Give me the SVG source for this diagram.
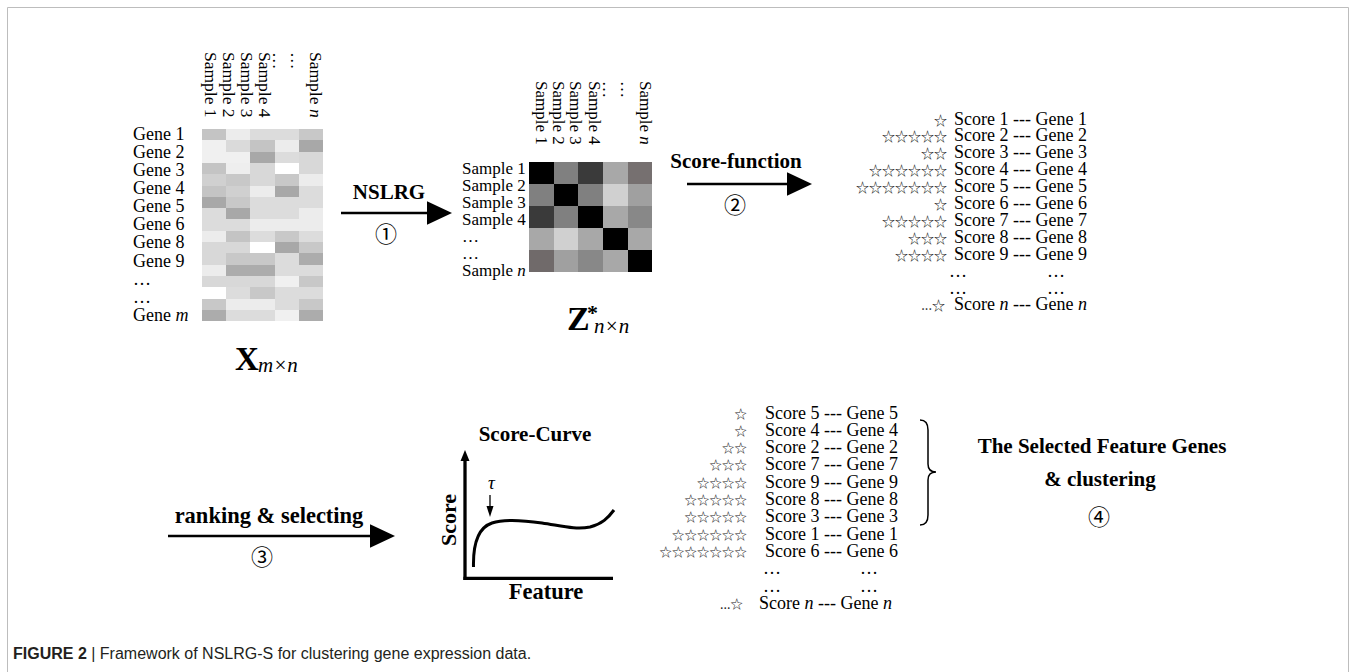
<svg xmlns="http://www.w3.org/2000/svg" width="1356" height="672" viewBox="0 0 1356 672">
<defs>
<style>
.s{font-family:"Liberation Serif","Times New Roman",serif;fill:#000}
.g18{font-size:18px}
.r17{font-size:17.5px}
.b{font-weight:bold}
.it{font-style:italic}
.st{font-family:"Noto Sans CJK SC","DejaVu Sans",sans-serif;fill:#222}
.cn{font-family:"Noto Sans CJK SC","DejaVu Sans",sans-serif;font-size:22px;text-anchor:middle;fill:#000}
.ln{stroke:#000;fill:none}
.cap{font-family:"Liberation Sans",Arial,sans-serif;font-size:16px;fill:#231f20}
</style>
<marker id="ah" markerUnits="userSpaceOnUse" markerWidth="26" markerHeight="24" viewBox="0 0 26 24" refX="13" refY="12" orient="auto"><path d="M0,0.3 L25,12 L0,23.7 z" fill="#000"/></marker>
<marker id="as" markerUnits="userSpaceOnUse" markerWidth="12" markerHeight="8" viewBox="0 0 12 8" refX="5" refY="4" orient="auto"><path d="M0,0.5 L11,4 L0,7.5 z" fill="#000"/></marker>
<marker id="ay" markerUnits="userSpaceOnUse" markerWidth="12" markerHeight="10" viewBox="0 0 12 10" refX="4" refY="5" orient="auto"><path d="M0,0.5 L11,5 L0,9.5 z" fill="#000"/></marker>
</defs>
<rect width="1356" height="672" fill="#fff"/>
<path d="M7.5,672 V7.5 H1348.5 V672" stroke="#bdbdbd" stroke-width="1" fill="none"/>

<g id="matrix-X">
<g shape-rendering="crispEdges">
<g transform="translate(202,129)">
<rect x="0" y="0" width="24.4" height="11.5" fill="#c4c4c4"/><rect x="24.2" y="0" width="24.4" height="11.5" fill="#ececec"/><rect x="48.4" y="0" width="24.4" height="11.5" fill="#dcdcdc"/><rect x="72.6" y="0" width="24.4" height="11.5" fill="#dcdcdc"/><rect x="96.8" y="0" width="24.2" height="11.5" fill="#c8c8c8"/>
<rect x="0" y="11.3" width="24.4" height="11.5" fill="#f0f0f0"/><rect x="24.2" y="11.3" width="24.4" height="11.5" fill="#dadada"/><rect x="48.4" y="11.3" width="24.4" height="11.5" fill="#c4c4c4"/><rect x="72.6" y="11.3" width="24.4" height="11.5" fill="#ececec"/><rect x="96.8" y="11.3" width="24.2" height="11.5" fill="#a8a8a8"/>
<rect x="0" y="22.6" width="24.4" height="11.5" fill="#f0f0f0"/><rect x="24.2" y="22.6" width="24.4" height="11.5" fill="#f0f0f0"/><rect x="48.4" y="22.6" width="24.4" height="11.5" fill="#a8a8a8"/><rect x="72.6" y="22.6" width="24.4" height="11.5" fill="#dcdcdc"/><rect x="96.8" y="22.6" width="24.2" height="11.5" fill="#d8d8d8"/>
<rect x="0" y="33.9" width="24.4" height="11.5" fill="#c4c4c4"/><rect x="24.2" y="33.9" width="24.4" height="11.5" fill="#eeeeee"/><rect x="48.4" y="33.9" width="24.4" height="11.5" fill="#d8d8d8"/><rect x="72.6" y="33.9" width="24.4" height="11.5" fill="#ffffff"/><rect x="96.8" y="33.9" width="24.2" height="11.5" fill="#d8d8d8"/>
<rect x="0" y="45.2" width="24.4" height="11.5" fill="#d0d0d0"/><rect x="24.2" y="45.2" width="24.4" height="11.5" fill="#c8c8c8"/><rect x="48.4" y="45.2" width="24.4" height="11.5" fill="#d8d8d8"/><rect x="72.6" y="45.2" width="24.4" height="11.5" fill="#c8c8c8"/><rect x="96.8" y="45.2" width="24.2" height="11.5" fill="#ececec"/>
<rect x="0" y="56.5" width="24.4" height="11.5" fill="#c4c4c4"/><rect x="24.2" y="56.5" width="24.4" height="11.5" fill="#d0d0d0"/><rect x="48.4" y="56.5" width="24.4" height="11.5" fill="#ececec"/><rect x="72.6" y="56.5" width="24.4" height="11.5" fill="#a8a8a8"/><rect x="96.8" y="56.5" width="24.2" height="11.5" fill="#dcdcdc"/>
<rect x="0" y="67.8" width="24.4" height="11.5" fill="#a8a8a8"/><rect x="24.2" y="67.8" width="24.4" height="11.5" fill="#c8c8c8"/><rect x="48.4" y="67.8" width="24.4" height="11.5" fill="#dcdcdc"/><rect x="72.6" y="67.8" width="24.4" height="11.5" fill="#dcdcdc"/><rect x="96.8" y="67.8" width="24.2" height="11.5" fill="#dcdcdc"/>
<rect x="0" y="79.1" width="24.4" height="11.5" fill="#dcdcdc"/><rect x="24.2" y="79.1" width="24.4" height="11.5" fill="#a8a8a8"/><rect x="48.4" y="79.1" width="24.4" height="11.5" fill="#dcdcdc"/><rect x="72.6" y="79.1" width="24.4" height="11.5" fill="#dcdcdc"/><rect x="96.8" y="79.1" width="24.2" height="11.5" fill="#ececec"/>
<rect x="0" y="90.4" width="24.4" height="11.5" fill="#dcdcdc"/><rect x="24.2" y="90.4" width="24.4" height="11.5" fill="#dcdcdc"/><rect x="48.4" y="90.4" width="24.4" height="11.5" fill="#ececec"/><rect x="72.6" y="90.4" width="24.4" height="11.5" fill="#ececec"/><rect x="96.8" y="90.4" width="24.2" height="11.5" fill="#ececec"/>
<rect x="0" y="101.7" width="24.4" height="11.5" fill="#ececec"/><rect x="24.2" y="101.7" width="24.4" height="11.5" fill="#c4c4c4"/><rect x="48.4" y="101.7" width="24.4" height="11.5" fill="#dcdcdc"/><rect x="72.6" y="101.7" width="24.4" height="11.5" fill="#c8c8c8"/><rect x="96.8" y="101.7" width="24.2" height="11.5" fill="#dcdcdc"/>
<rect x="0" y="113" width="24.4" height="11.5" fill="#d8d8d8"/><rect x="24.2" y="113" width="24.4" height="11.5" fill="#d8d8d8"/><rect x="48.4" y="113" width="24.4" height="11.5" fill="#ffffff"/><rect x="72.6" y="113" width="24.4" height="11.5" fill="#a8a8a8"/><rect x="96.8" y="113" width="24.2" height="11.5" fill="#c8c8c8"/>
<rect x="0" y="124.3" width="24.4" height="11.5" fill="#d8d8d8"/><rect x="24.2" y="124.3" width="24.4" height="11.5" fill="#c8c8c8"/><rect x="48.4" y="124.3" width="24.4" height="11.5" fill="#c8c8c8"/><rect x="72.6" y="124.3" width="24.4" height="11.5" fill="#dcdcdc"/><rect x="96.8" y="124.3" width="24.2" height="11.5" fill="#acacac"/>
<rect x="0" y="135.6" width="24.4" height="11.5" fill="#ececec"/><rect x="24.2" y="135.6" width="24.4" height="11.5" fill="#acacac"/><rect x="48.4" y="135.6" width="24.4" height="11.5" fill="#acacac"/><rect x="72.6" y="135.6" width="24.4" height="11.5" fill="#dcdcdc"/><rect x="96.8" y="135.6" width="24.2" height="11.5" fill="#dcdcdc"/>
<rect x="0" y="146.9" width="24.4" height="11.5" fill="#d8d8d8"/><rect x="24.2" y="146.9" width="24.4" height="11.5" fill="#d8d8d8"/><rect x="48.4" y="146.9" width="24.4" height="11.5" fill="#d8d8d8"/><rect x="72.6" y="146.9" width="24.4" height="11.5" fill="#f0f0f0"/><rect x="96.8" y="146.9" width="24.2" height="11.5" fill="#c8c8c8"/>
<rect x="0" y="158.2" width="24.4" height="11.5" fill="#ffffff"/><rect x="24.2" y="158.2" width="24.4" height="11.5" fill="#dcdcdc"/><rect x="48.4" y="158.2" width="24.4" height="11.5" fill="#c8c8c8"/><rect x="72.6" y="158.2" width="24.4" height="11.5" fill="#dcdcdc"/><rect x="96.8" y="158.2" width="24.2" height="11.5" fill="#dcdcdc"/>
<rect x="0" y="169.5" width="24.4" height="11.5" fill="#c8c8c8"/><rect x="24.2" y="169.5" width="24.4" height="11.5" fill="#ececec"/><rect x="48.4" y="169.5" width="24.4" height="11.5" fill="#ececec"/><rect x="72.6" y="169.5" width="24.4" height="11.5" fill="#dcdcdc"/><rect x="96.8" y="169.5" width="24.2" height="11.5" fill="#c8c8c8"/>
<rect x="0" y="180.8" width="24.4" height="11.3" fill="#acacac"/><rect x="24.2" y="180.8" width="24.4" height="11.3" fill="#dcdcdc"/><rect x="48.4" y="180.8" width="24.4" height="11.3" fill="#dcdcdc"/><rect x="72.6" y="180.8" width="24.4" height="11.3" fill="#f0f0f0"/><rect x="96.8" y="180.8" width="24.2" height="11.3" fill="#acacac"/>
</g>
</g>
<text class="s g18"><tspan x="133" y="140">Gene 1</tspan><tspan x="133" y="158.1">Gene 2</tspan><tspan x="133" y="176.1">Gene 3</tspan><tspan x="133" y="194.2">Gene 4</tspan><tspan x="133" y="212.3">Gene 5</tspan><tspan x="133" y="230.4">Gene 6</tspan><tspan x="133" y="248.4">Gene 8</tspan><tspan x="133" y="266.5">Gene 9</tspan><tspan x="133" y="284.6">…</tspan><tspan x="133" y="302.6">…</tspan><tspan x="133" y="320.7">Gene <tspan class="it">m</tspan></tspan></text>
<text class="s r17" transform="translate(0,52) rotate(90)"><tspan x="0" y="-204.6">Sample 1</tspan><tspan x="0" y="-222.7">Sample 2</tspan><tspan x="0" y="-240.8">Sample 3</tspan><tspan x="0" y="-258.8">Sample 4</tspan><tspan x="0" y="-273">…</tspan><tspan x="0" y="-291">…</tspan><tspan x="0" y="-310.2">Sample <tspan class="it">n</tspan></tspan></text>
<text class="s"><tspan class="b" x="235" y="370" font-size="33">X</tspan><tspan class="it" x="258" y="372" font-size="21">m×n</tspan></text>
</g>

<g id="matrix-Z">
<g shape-rendering="crispEdges" transform="translate(529.3,161.7)">
<rect x="0" y="0" width="24.8" height="22.2" fill="#000"/><rect x="24.6" y="0" width="24.8" height="22.2" fill="#808080"/><rect x="49.2" y="0" width="24.8" height="22.2" fill="#3a3a3a"/><rect x="73.8" y="0" width="24.8" height="22.2" fill="#a8a8a8"/><rect x="98.4" y="0" width="24.6" height="22.2" fill="#767070"/>
<rect x="0" y="22" width="24.8" height="22.2" fill="#808080"/><rect x="24.6" y="22" width="24.8" height="22.2" fill="#000"/><rect x="49.2" y="22" width="24.8" height="22.2" fill="#808080"/><rect x="73.8" y="22" width="24.8" height="22.2" fill="#d0d0d0"/><rect x="98.4" y="22" width="24.6" height="22.2" fill="#a0a0a0"/>
<rect x="0" y="44" width="24.8" height="22.2" fill="#3a3a3a"/><rect x="24.6" y="44" width="24.8" height="22.2" fill="#808080"/><rect x="49.2" y="44" width="24.8" height="22.2" fill="#000"/><rect x="73.8" y="44" width="24.8" height="22.2" fill="#a8a8a8"/><rect x="98.4" y="44" width="24.6" height="22.2" fill="#888888"/>
<rect x="0" y="66" width="24.8" height="22.2" fill="#a8a8a8"/><rect x="24.6" y="66" width="24.8" height="22.2" fill="#d0d0d0"/><rect x="49.2" y="66" width="24.8" height="22.2" fill="#a8a8a8"/><rect x="73.8" y="66" width="24.8" height="22.2" fill="#000"/><rect x="98.4" y="66" width="24.6" height="22.2" fill="#a8a8a8"/>
<rect x="0" y="88" width="24.8" height="22.6" fill="#706a6a"/><rect x="24.6" y="88" width="24.8" height="22.6" fill="#a0a0a0"/><rect x="49.2" y="88" width="24.8" height="22.6" fill="#888888"/><rect x="73.8" y="88" width="24.8" height="22.6" fill="#a8a8a8"/><rect x="98.4" y="88" width="24.6" height="22.6" fill="#000"/>
</g>
<text class="s" font-size="17"><tspan x="462" y="173.5">Sample 1</tspan><tspan x="462" y="190.6">Sample 2</tspan><tspan x="462" y="207.7">Sample 3</tspan><tspan x="462" y="224.8">Sample 4</tspan><tspan x="462" y="241.9">…</tspan><tspan x="462" y="259">…</tspan><tspan x="462" y="276.1">Sample <tspan class="it">n</tspan></tspan></text>
<text class="s" font-size="17" transform="translate(0,81) rotate(90)"><tspan x="0" y="-535.5">Sample 1</tspan><tspan x="0" y="-552.7">Sample 2</tspan><tspan x="0" y="-570">Sample 3</tspan><tspan x="0" y="-588.5">Sample 4</tspan><tspan x="0" y="-603">…</tspan><tspan x="0" y="-620.7">…</tspan><tspan x="0" y="-640">Sample <tspan class="it">n</tspan></tspan></text>
<text class="s"><tspan class="b" x="567" y="330" font-size="34">Z</tspan><tspan class="b" x="587" y="320" font-size="22">*</tspan><tspan class="it" x="594" y="333" font-size="21">n×n</tspan></text>
</g>

<g id="connectors">
<line class="ln" x1="341" y1="213" x2="440" y2="213" stroke-width="2.5" marker-end="url(#ah)"/>
<line class="ln" x1="687" y1="184" x2="800" y2="184" stroke-width="2.5" marker-end="url(#ah)"/>
<line class="ln" x1="168" y1="536" x2="383" y2="536" stroke-width="2.5" marker-end="url(#ah)"/>
</g>

<g id="step1">
<text class="s b" x="389" y="199" font-size="21" text-anchor="middle">NSLRG</text>
<text class="cn" x="386" y="242">①</text>
</g>
<g id="step2">
<text class="s b" x="736" y="168" font-size="21" text-anchor="middle">Score-function</text>
<text class="cn" x="735" y="213">②</text>
</g>
<g id="step3">
<text class="s b" x="269" y="522.7" font-size="22.5" text-anchor="middle">ranking &amp; selecting</text>
<text class="cn" x="262" y="565">③</text>
</g>

<g id="score-list">
<text class="s g18" text-anchor="end"><tspan x="1087" y="124.5">Score 1 --- Gene 1</tspan><tspan x="1087" y="141.4">Score 2 --- Gene 2</tspan><tspan x="1087" y="158.3">Score 3 --- Gene 3</tspan><tspan x="1087" y="175.2">Score 4 --- Gene 4</tspan><tspan x="1087" y="192.1">Score 5 --- Gene 5</tspan><tspan x="1087" y="209">Score 6 --- Gene 6</tspan><tspan x="1087" y="225.9">Score 7 --- Gene 7</tspan><tspan x="1087" y="242.8">Score 8 --- Gene 8</tspan><tspan x="1087" y="259.7">Score 9 --- Gene 9</tspan><tspan x="967" y="276.6">…</tspan><tspan x="1065" y="276.6">…</tspan><tspan x="967" y="293.5">…</tspan><tspan x="1065" y="293.5">…</tspan><tspan x="1087" y="310.4">Score <tspan class="it">n</tspan> --- Gene <tspan class="it">n</tspan></tspan></text>
<text class="st" font-size="13" text-anchor="end"><tspan x="947" y="124.5">☆</tspan><tspan x="947" y="141.4">☆☆☆☆☆</tspan><tspan x="947" y="158.3">☆☆</tspan><tspan x="947" y="175.2">☆☆☆☆☆☆</tspan><tspan x="947" y="192.1">☆☆☆☆☆☆☆</tspan><tspan x="947" y="209">☆</tspan><tspan x="947" y="225.9">☆☆☆☆☆</tspan><tspan x="947" y="242.8">☆☆☆</tspan><tspan x="947" y="259.7">☆☆☆☆</tspan><tspan x="945" y="310.4">...☆</tspan></text>
</g>

<g id="score-curve">
<text class="s b" x="535" y="440.7" font-size="21" text-anchor="middle">Score-Curve</text>
<line class="ln" x1="465" y1="580" x2="465" y2="457" stroke-width="3.3" marker-end="url(#ay)"/>
<line class="ln" x1="463.4" y1="578.3" x2="613" y2="578.3" stroke-width="3.3"/>
<path class="ln" d="M473.5,567 C473,545 477,528 492,523 C505,518.5 522,520 542,523 C562,526 576,530 590,527 C602,524 608,518 614,510" stroke-width="3"/>
<text class="s it" x="491.5" y="489" font-size="19" text-anchor="middle">τ</text>
<line class="ln" x1="490" y1="495" x2="490" y2="511" stroke-width="1.3" marker-end="url(#as)"/>
<text class="s b" transform="translate(456,520) rotate(-90)" font-size="22" text-anchor="middle">Score</text>
<text class="s b" x="546" y="599.3" font-size="22.5" text-anchor="middle">Feature</text>
</g>

<g id="selected-list">
<text class="s g18"><tspan x="765" y="418.5">Score 5 --- Gene 5</tspan><tspan x="765" y="435.8">Score 4 --- Gene 4</tspan><tspan x="765" y="453.1">Score 2 --- Gene 2</tspan><tspan x="765" y="470.4">Score 7 --- Gene 7</tspan><tspan x="765" y="487.7">Score 9 --- Gene 9</tspan><tspan x="765" y="505">Score 8 --- Gene 8</tspan><tspan x="765" y="522.3">Score 3 --- Gene 3</tspan><tspan x="765" y="539.6">Score 1 --- Gene 1</tspan><tspan x="765" y="556.9">Score 6 --- Gene 6</tspan><tspan x="763" y="574.2">…</tspan><tspan x="860" y="574.2">…</tspan><tspan x="763" y="591.5">…</tspan><tspan x="860" y="591.5">…</tspan><tspan x="759" y="608.8">Score <tspan class="it">n</tspan> --- Gene <tspan class="it">n</tspan></tspan></text>
<text class="st" font-size="12.5" text-anchor="end"><tspan x="747" y="418.5">☆</tspan><tspan x="747" y="435.8">☆</tspan><tspan x="747" y="453.1">☆☆</tspan><tspan x="747" y="470.4">☆☆☆</tspan><tspan x="747" y="487.7">☆☆☆☆</tspan><tspan x="747" y="505">☆☆☆☆☆</tspan><tspan x="747" y="522.3">☆☆☆☆☆</tspan><tspan x="747" y="539.6">☆☆☆☆☆☆</tspan><tspan x="747" y="556.9">☆☆☆☆☆☆☆</tspan><tspan x="743" y="608.8">...☆</tspan></text>
<path class="ln" d="M920,420 Q928,420 928,430 L928,464 Q928,472 936,472 Q928,472 928,480 L928,515 Q928,525 920,525" stroke-width="1.5"/>
</g>

<g id="result">
<text class="s b" font-size="21" text-anchor="middle"><tspan x="1102" y="453.3">The Selected Feature Genes</tspan><tspan x="1100" y="486">&amp; clustering</tspan></text>
<text class="cn" x="1099" y="525">④</text>
</g>

<text class="cap" x="13" y="659"><tspan font-weight="bold">FIGURE 2</tspan> | Framework of NSLRG-S for clustering gene expression data.</text>
</svg>
